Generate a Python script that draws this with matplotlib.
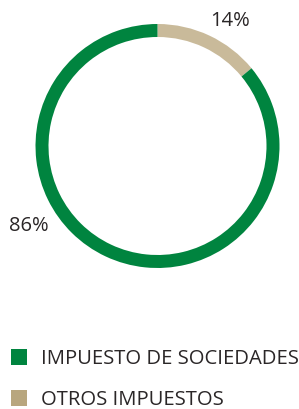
import matplotlib
matplotlib.use("Agg")
import matplotlib.pyplot as plt
from matplotlib.patches import Patch

categories = ["OTROS IMPUESTOS", "IMPUESTO DE SOCIEDADES"]
values = [14, 86]
labels = ["14%", "86%"]

ring_colors = ["#C9BA9A", "#00843F"]
legend_colors = {"IMPUESTO DE SOCIEDADES": "#00843F", "OTROS IMPUESTOS": "#B8A67E"}
text_color = "#2a2627"

plt.rcParams['font.family'] = ['Open Sans', 'DejaVu Sans']

W, H = 299, 409
fig = plt.figure(figsize=(W / 100, H / 100), dpi=100)
cx, cy, R = 157.5, 146, 122
ax = fig.add_axes([(cx - R) / W, (H - cy - R) / H, 2 * R / W, 2 * R / H])
ax.pie(values, colors=ring_colors, startangle=90, counterclock=False,
       radius=1.0, wedgeprops=dict(width=13 / R, linewidth=0))
ax.set_xlim(-1, 1)
ax.set_ylim(-1, 1)
ax.set_aspect('equal')
ax.axis('off')

label_pos = [(0.594, 1.025), (-1.053, -0.656)]
for lab, (x, y) in zip(labels, label_pos):
    ax.text(x, y, lab, ha='center', va='center', fontsize=14.5, color=text_color,
            clip_on=False)

fs = 14.6
order = ["IMPUESTO DE SOCIEDADES", "OTROS IMPUESTOS"]
handles = [Patch(facecolor=legend_colors[c], edgecolor='none', label=c) for c in order]
leg = fig.legend(handles=handles, loc='upper left', bbox_to_anchor=(11 / W, 1 - 349 / H),
                 frameon=False, fontsize=fs, handlelength=0.8, handleheight=0.8,
                 handletextpad=0.7, labelspacing=1.05, borderpad=0, borderaxespad=0,
                 labelcolor=text_color)

fig.savefig("out.png", dpi=100)
